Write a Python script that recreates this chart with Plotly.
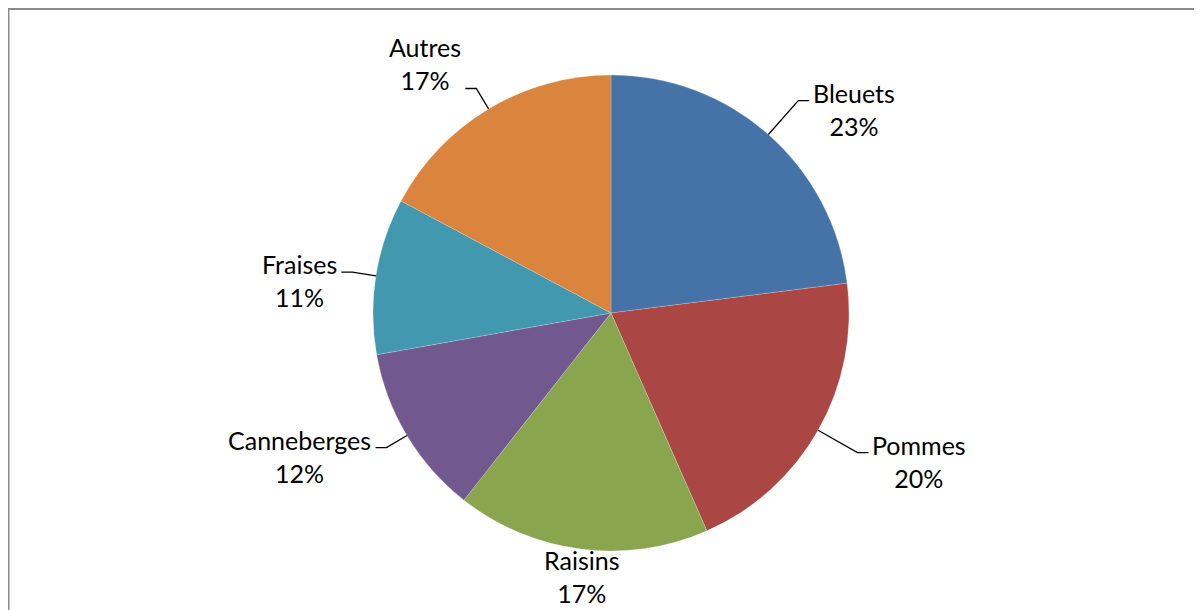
import math
import plotly.graph_objects as go

# ---- data ----
categories = ["Bleuets", "Pommes", "Raisins", "Canneberges", "Fraises", "Autres"]
values = [23.0, 20.4, 17.2, 11.6, 10.6, 17.2]
colors = ["#4572A7", "#AA4643", "#89A54E", "#71588F", "#4198AF", "#DB843D"]

# ---- layout constants ----
W, H = 1202, 610
CX, CY, R = 603, 305, 238          # pie centre / radius in figure pixels
FONT = dict(family="Lato, 'Noto Sans', sans-serif", size=25, color="#000000")


def px_to_paper(x, y):
    return x / W, 1 - y / H


fig = go.Figure()
fig.add_trace(go.Pie(
    labels=categories,
    values=values,
    sort=False,
    direction="clockwise",
    rotation=0,
    marker=dict(colors=colors, line=dict(color="rgba(255,255,255,0.25)", width=0.8)),
    textinfo="none",
    hoverinfo="label+percent",
    showlegend=False,
    domain=dict(x=[(CX - R) / W, (CX + R) / W], y=[1 - (CY + R) / H, 1 - (CY - R) / H]),
))

total = sum(values)
cum = 0.0
annotations = []
shapes = []
for name, v in zip(categories, values):
    start = 90 - 360 * cum / total
    mid = math.radians(start - 180 * v / total)
    cum += v
    c, s = math.cos(mid), math.sin(mid)
    pct = f"{v / total:.0%}"
    text = f"{name}<br>{pct}"
    if abs(c) > 0.3:
        side = 1 if c > 0 else -1
        k = 1.19 if side > 0 else 1.10
        ex, ey = CX + R * c, CY - R * s                  # edge point
        kx, ky = CX + k * R * c, CY - k * R * s          # elbow
        lx = kx + side * 11
        p0 = px_to_paper(ex, ey)
        p1 = px_to_paper(kx, ky)
        p2 = px_to_paper(lx, ky)
        shapes.append(dict(
            type="path", xref="paper", yref="paper",
            path=f"M {p0[0]},{p0[1]} L {p1[0]},{p1[1]} L {p2[0]},{p2[1]}",
            line=dict(color="#000000", width=1.3),
        ))
        if s > 0.8:
            ay, yanc = ky + 9, "bottom"
        else:
            ay, yanc = ky - 25, "top"
        ax = lx + side * 2
        xa, ya = px_to_paper(ax, ay)
        annotations.append(dict(
            x=xa, y=ya, xref="paper", yref="paper", text=text, showarrow=False,
            xanchor="left" if side > 0 else "right", yanchor=yanc, align="center",
            font=FONT,
        ))
    else:
        ax, ay = CX + 0.975 * R * c, CY - 0.975 * R * s
        xa, ya = px_to_paper(ax, ay)
        annotations.append(dict(
            x=xa, y=ya, xref="paper", yref="paper", text=text, showarrow=False,
            xanchor="center", yanchor="top" if s < 0 else "bottom", align="center",
            font=FONT,
        ))

# chart border (top-left visible, rest cropped)
shapes.append(dict(
    type="rect", xref="paper", yref="paper",
    x0=0.6 / W, y0=-0.05, x1=1.05, y1=1 - 1 / H,
    line=dict(color="#8C8C8C", width=1.8), fillcolor="rgba(0,0,0,0)",
))

fig.update_layout(
    width=W, height=H,
    margin=dict(l=0, r=0, t=0, b=0),
    paper_bgcolor="#FFFFFF",
    plot_bgcolor="#FFFFFF",
    annotations=annotations,
    shapes=shapes,
)

fig.write_html("out.html")
